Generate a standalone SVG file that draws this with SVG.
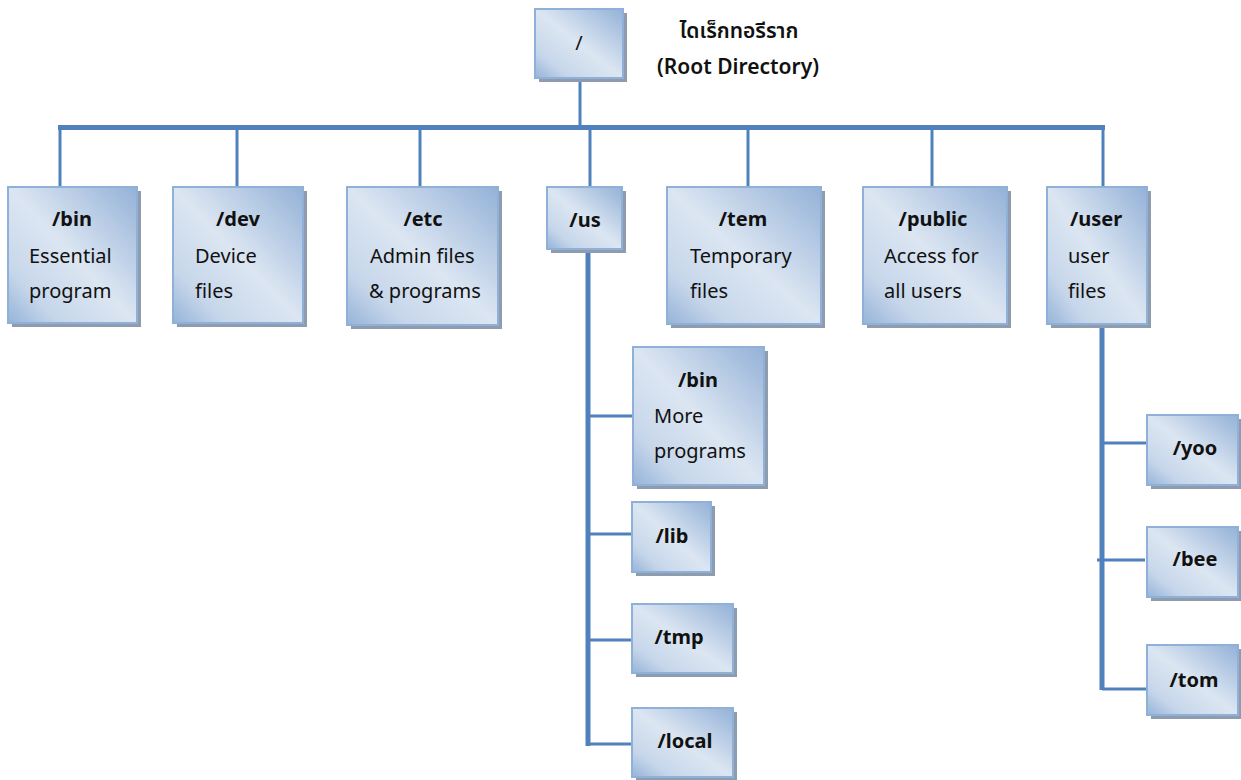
<svg xmlns="http://www.w3.org/2000/svg" width="1241" height="780" viewBox="0 0 1241 780">
<defs>
<linearGradient id="g" x1="1" y1="0" x2="0" y2="1">
<stop offset="0" stop-color="#93b1d7"/>
<stop offset="0.5" stop-color="#dce6f2"/>
<stop offset="0.8" stop-color="#c6d6ea"/>
<stop offset="1" stop-color="#95b3d8"/>
</linearGradient>
</defs>
<style>
.box{fill:url(#g);stroke:#8fb0d9;stroke-width:2}
.sh{fill:#8e9cad}
.c{fill:none;stroke:#4f81bd;stroke-linecap:butt}
text{font-family:"Noto Sans","Noto Sans Thai","DejaVu Sans",sans-serif;font-size:20px;fill:#111}
.t{font-weight:bold;text-anchor:middle}
.m{text-anchor:middle}
.r{font-weight:600;font-size:21px}
</style>
<g id="connectors">
<line class="c" x1="580" y1="78" x2="580" y2="126" stroke-width="3"/>
<line class="c" x1="58" y1="127.5" x2="1105" y2="127.5" stroke-width="5"/>
<line class="c" x1="60" y1="128" x2="60" y2="188" stroke-width="3"/>
<line class="c" x1="237" y1="128" x2="237" y2="188" stroke-width="3"/>
<line class="c" x1="420" y1="128" x2="420" y2="188" stroke-width="3"/>
<line class="c" x1="590" y1="128" x2="590" y2="188" stroke-width="3"/>
<line class="c" x1="748" y1="128" x2="748" y2="188" stroke-width="3"/>
<line class="c" x1="932" y1="128" x2="932" y2="188" stroke-width="3"/>
<line class="c" x1="1103" y1="128" x2="1103" y2="188" stroke-width="3"/>
<line class="c" x1="588" y1="249" x2="588" y2="746" stroke-width="5"/>
<line class="c" x1="588" y1="416" x2="634" y2="416" stroke-width="3"/>
<line class="c" x1="586" y1="534" x2="633" y2="534" stroke-width="3"/>
<line class="c" x1="588" y1="640" x2="633" y2="640" stroke-width="3"/>
<line class="c" x1="586" y1="744" x2="633" y2="744" stroke-width="3"/>
<line class="c" x1="1102" y1="325" x2="1102" y2="690" stroke-width="5"/>
<line class="c" x1="1102" y1="443" x2="1148" y2="443" stroke-width="3"/>
<line class="c" x1="1097" y1="560" x2="1145" y2="560" stroke-width="3"/>
<line class="c" x1="1102" y1="689" x2="1149" y2="689" stroke-width="3"/>
</g>
<g id="root">
<rect class="sh" x="539" y="13" width="88" height="69"/>
<rect class="box" x="535" y="9" width="88" height="69"/>
<text class="m" x="579" y="50">/</text>
</g>
<g id="root-label">
<text class="m r" x="739" y="38" font-family="'Noto Sans Thai','Noto Sans',sans-serif">ไดเร็กทอรีราก</text>
<text class="m r" x="738" y="74">(Root Directory)</text>
</g>
<g id="bin">
<rect class="sh" x="12" y="191" width="129" height="136"/>
<rect class="box" x="8" y="187" width="129" height="136"/>
<text class="t" x="72" y="226">/bin</text>
<text x="29" y="263">Essential</text>
<text x="29" y="298">program</text>
</g>
<g id="dev">
<rect class="sh" x="177" y="191" width="130" height="136"/>
<rect class="box" x="173" y="187" width="130" height="136"/>
<text class="t" x="238" y="226">/dev</text>
<text x="195" y="263">Device</text>
<text x="195" y="298">files</text>
</g>
<g id="etc">
<rect class="sh" x="351" y="191" width="151" height="138"/>
<rect class="box" x="347" y="187" width="151" height="138"/>
<text class="t" x="423" y="226">/etc</text>
<text x="370" y="263">Admin files</text>
<text x="369" y="298">&amp; programs</text>
</g>
<g id="us">
<rect class="sh" x="551" y="191" width="75" height="62"/>
<rect class="box" x="547" y="187" width="75" height="62"/>
<text class="t" x="585" y="227">/us</text>
</g>
<g id="tem">
<rect class="sh" x="671" y="191" width="154" height="137"/>
<rect class="box" x="667" y="187" width="154" height="137"/>
<text class="t" x="743" y="226">/tem</text>
<text x="690" y="263">Temporary</text>
<text x="690" y="298">files</text>
</g>
<g id="public">
<rect class="sh" x="867" y="191" width="144" height="137"/>
<rect class="box" x="863" y="187" width="144" height="137"/>
<text class="t" x="933" y="226">/public</text>
<text x="884" y="263">Access for</text>
<text x="884" y="298">all users</text>
</g>
<g id="user">
<rect class="sh" x="1051" y="191" width="100" height="137"/>
<rect class="box" x="1047" y="187" width="100" height="137"/>
<text class="t" x="1096" y="226">/user</text>
<text x="1068" y="263">user</text>
<text x="1068" y="298">files</text>
</g>
<g id="us-bin">
<rect class="sh" x="637" y="351" width="131" height="138"/>
<rect class="box" x="633" y="347" width="131" height="138"/>
<text class="t" x="698" y="387">/bin</text>
<text x="654" y="423">More</text>
<text x="654" y="458">programs</text>
</g>
<g id="lib">
<rect class="sh" x="636" y="506" width="79" height="70"/>
<rect class="box" x="632" y="502" width="79" height="70"/>
<text class="t" x="672" y="543">/lib</text>
</g>
<g id="tmp">
<rect class="sh" x="636" y="608" width="101" height="69"/>
<rect class="box" x="632" y="604" width="101" height="69"/>
<text class="t" x="679" y="644">/tmp</text>
</g>
<g id="local">
<rect class="sh" x="636" y="712" width="101" height="69"/>
<rect class="box" x="632" y="708" width="101" height="69"/>
<text class="t" x="685" y="748">/local</text>
</g>
<g id="yoo">
<rect class="sh" x="1151" y="419" width="91" height="70"/>
<rect class="box" x="1147" y="415" width="91" height="70"/>
<text class="t" x="1195" y="455">/yoo</text>
</g>
<g id="bee">
<rect class="sh" x="1151" y="531" width="91" height="70"/>
<rect class="box" x="1147" y="527" width="91" height="70"/>
<text class="t" x="1195" y="566">/bee</text>
</g>
<g id="tom">
<rect class="sh" x="1151" y="649" width="91" height="70"/>
<rect class="box" x="1147" y="645" width="91" height="70"/>
<text class="t" x="1194" y="687">/tom</text>
</g>
</svg>
